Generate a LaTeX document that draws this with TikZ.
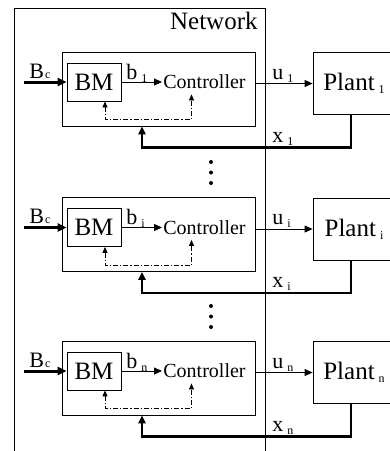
\documentclass[tikz,border=0pt]{standalone}
\usepackage{fontspec}
\setmainfont{Liberation Serif}
\usetikzlibrary{arrows.meta,positioning,calc}
\newcommand{\lowidx}[1]{\hspace{4pt}\raisebox{-3pt}{\fontsize{12}{12}\selectfont #1}}

\begin{document}
\begin{tikzpicture}[
  x=1pt,y=1pt,
  line width=0.8pt,
  blk/.style={draw,inner sep=0pt,font=\fontsize{25}{25}\selectfont},
  lbl/.style={inner sep=0pt,anchor=base west,font=\fontsize{22}{22}\selectfont},
  arrow/.style={-{Triangle[length=8pt,width=7pt]}},
  thk/.style={-{Triangle[length=9pt,width=8pt]},line width=3pt},
  fb/.style={-{Triangle[length=8pt,width=7pt]},line width=2.4pt},
  dd/.style={{Triangle[length=6pt,width=5pt]}-{Triangle[length=6pt,width=5pt]},dash pattern=on 5pt off 2pt on 1.2pt off 2pt}
]
\useasboundingbox (0,0) rectangle (390,-451);
\clip (0,0) rectangle (390,-451);
\node[draw,anchor=north west,minimum width=251,minimum height=470,inner sep=0pt] (net) at (14,-8) {};
\node[lbl,font=\fontsize{25}{25}\selectfont,anchor=base east] (netlbl) at (258,-29) {Network};
\foreach \k/\dy in {1/0,i/145.5,n/289}{
  \node[draw,minimum width=193,minimum height=74,inner sep=0pt] (ctrl\k) at (158.5,-89-\dy) {};
  \node[blk,minimum width=54,minimum height=38] (bm\k) at (94,-82-\dy) {BM};
  \node[inner sep=1pt,anchor=west,font=\fontsize{20}{20}\selectfont] (con\k) at (162,-82-\dy) {Controller};
  \node[blk,minimum width=82,minimum height=62] (plant\k) at (354,-83.5-\dy) {Plant\lowidx{\k}};
  \coordinate (in\k) at (24,-82-\dy);
  % labels
  \node[lbl] (bc\k) at (29,-78-\dy) {B\hspace{1pt}{\fontsize{12}{12}\selectfont c}};
  \node[lbl] (b\k) at (126,-79-\dy) {b\lowidx{\k}};
  \node[lbl] (u\k) at (272,-79-\dy) {u\lowidx{\k}};
  \node[lbl] (x\k) at (272,-142-\dy) {x\lowidx{\k}};
  % connectors
  \draw[thk] (in\k) -- (bm\k.west);
  \draw[arrow] (bm\k.east) -- (con\k.west);
  \draw[arrow] (ctrl\k.east |- plant\k.west) -- (plant\k.west);
  \draw[fb] ([xshift=-3pt]plant\k.south) |- ([xshift=-16.5pt,yshift=-21pt]ctrl\k.south) -- ([xshift=-16.5pt]ctrl\k.south);
  \draw[dd] ([xshift=11pt]bm\k.south) -- ++(0,-18) -| ([xshift=-13pt,yshift=-4pt]con\k.south);
}
% vertical dots
\foreach \yy in {162,306}
  \foreach \d in {0,10.5,21}
    \fill (211,-\yy-\d) circle (2pt);
\end{tikzpicture}
\end{document}
